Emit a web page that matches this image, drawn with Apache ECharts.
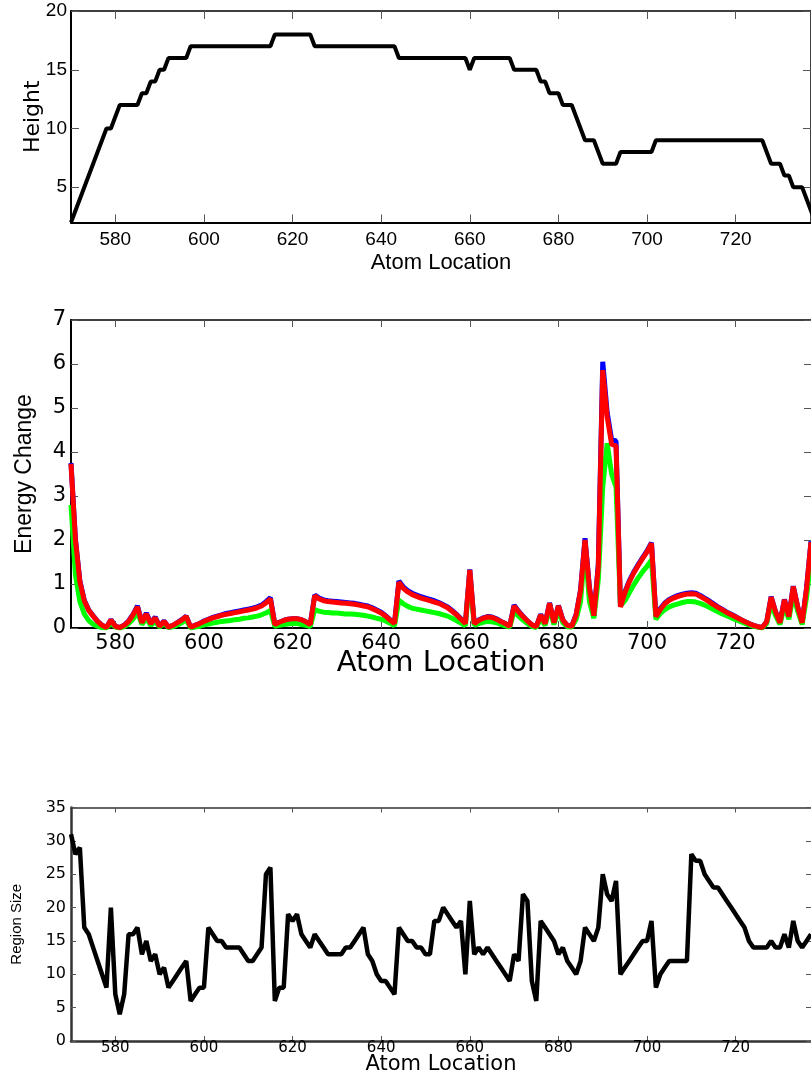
<!DOCTYPE html>
<html><head><meta charset="utf-8">
<script src="https://cdn.jsdelivr.net/npm/echarts@6/dist/echarts.min.js"></script>
<style>html,body{margin:0;padding:0;background:#fff}#c{width:811px;height:1076px}</style>
</head><body><div id="c"></div>
<script>
// ---- data ----
const atomStart = 570;
const xTicks = [580, 600, 620, 640, 660, 680, 700, 720];
const heightTicks = [5, 10, 15, 20];
const energyTicks = [0, 1, 2, 3, 4, 5, 6, 7];
const regionTicks = [0, 5, 10, 15, 20, 25, 30, 35];

const heightVals = [
  2,3,4,5,6,7,8,9,10,10,
  11,12,12,12,12,12,13,13,14,14,
  15,15,16,16,16,16,16,17,17,17,
  17,17,17,17,17,17,17,17,17,17,
  17,17,17,17,17,17,18,18,18,18,
  18,18,18,18,18,17,17,17,17,17,
  17,17,17,17,17,17,17,17,17,17,
  17,17,17,17,16,16,16,16,16,16,
  16,16,16,16,16,16,16,16,16,16,
  15,16,16,16,16,16,16,16,16,16,
  15,15,15,15,15,15,14,14,13,13,
  13,12,12,12,11,10,9,9,9,8,
  7,7,7,7,8,8,8,8,8,8,
  8,8,9,9,9,9,9,9,9,9,
  9,9,9,9,9,9,9,9,9,9,
  9,9,9,9,9,9,9,8,7,7,
  7,6,6,5,5,5,4,3,2
];

const energyBlue = [
  3.75,2.02,1.07,0.63,0.41,0.28,0.15,0.06,0.01,0.19,
  0.04,0.01,0.06,0.16,0.31,0.5,0.13,0.34,0.11,0.25,
  0.04,0.16,0.02,0.06,0.12,0.19,0.27,0.02,0.06,0.1,
  0.16,0.2,0.24,0.27,0.3,0.33,0.35,0.37,0.39,0.41,
  0.43,0.45,0.48,0.52,0.6,0.69,0.08,0.13,0.17,0.2,
  0.21,0.21,0.19,0.14,0.08,0.75,0.68,0.64,0.62,0.61,
  0.6,0.59,0.58,0.57,0.56,0.54,0.52,0.5,0.46,0.41,
  0.36,0.28,0.19,0.1,1.07,0.93,0.85,0.79,0.75,0.71,
  0.68,0.65,0.62,0.58,0.53,0.48,0.4,0.31,0.21,0.1,
  1.33,0.1,0.18,0.23,0.26,0.25,0.21,0.15,0.1,0.04,
  0.52,0.38,0.27,0.16,0.07,0.03,0.31,0.1,0.57,0.12,
  0.51,0.18,0.06,0.04,0.31,0.87,2.04,0.92,0.28,1.45,
  6.05,4.9,4.28,4.25,0.5,0.82,1.07,1.27,1.44,1.6,
  1.75,1.94,0.27,0.44,0.57,0.65,0.7,0.74,0.77,0.79,
  0.8,0.79,0.74,0.68,0.62,0.55,0.48,0.42,0.36,0.31,
  0.26,0.2,0.15,0.1,0.06,0.03,0.01,0.14,0.71,0.37,
  0.12,0.65,0.26,0.95,0.48,0.12,0.91,1.97
];

const energyGreen = [
  2.8,1.2,0.6,0.32,0.17,0.08,0.04,0.01,0.0,0.1,
  0.02,0.0,0.03,0.1,0.2,0.36,0.08,0.22,0.06,0.15,
  0.02,0.1,0.01,0.03,0.07,0.12,0.19,0.0,0.02,0.04,
  0.07,0.09,0.11,0.13,0.15,0.16,0.17,0.19,0.2,0.22,
  0.23,0.25,0.27,0.3,0.34,0.4,0.04,0.06,0.08,0.09,
  0.1,0.1,0.08,0.06,0.03,0.42,0.38,0.36,0.35,0.34,
  0.34,0.33,0.32,0.32,0.31,0.3,0.29,0.27,0.25,0.22,
  0.2,0.16,0.11,0.05,0.63,0.55,0.49,0.45,0.43,0.41,
  0.39,0.37,0.35,0.33,0.3,0.27,0.22,0.17,0.11,0.05,
  1.2,0.06,0.1,0.13,0.15,0.14,0.12,0.08,0.05,0.02,
  0.38,0.27,0.18,0.1,0.04,0.01,0.22,0.06,0.45,0.08,
  0.4,0.12,0.03,0.02,0.2,0.6,1.85,0.6,0.22,1.1,
  3.2,4.2,3.5,3.2,0.5,0.62,0.8,0.98,1.14,1.28,
  1.4,1.55,0.2,0.33,0.42,0.48,0.52,0.55,0.58,0.6,
  0.6,0.59,0.56,0.52,0.47,0.42,0.37,0.32,0.28,0.23,
  0.19,0.15,0.11,0.07,0.04,0.02,0.0,0.1,0.56,0.28,
  0.08,0.5,0.2,0.76,0.38,0.08,0.7,1.6
];

const energyRed = [
  3.73,2.0,1.05,0.62,0.4,0.27,0.15,0.06,0.01,0.18,
  0.04,0.01,0.06,0.15,0.3,0.48,0.12,0.32,0.1,0.23,
  0.04,0.15,0.02,0.06,0.12,0.18,0.26,0.02,0.06,0.1,
  0.15,0.19,0.23,0.26,0.29,0.31,0.33,0.35,0.37,0.39,
  0.41,0.43,0.46,0.5,0.57,0.66,0.08,0.13,0.17,0.2,
  0.21,0.21,0.19,0.14,0.08,0.73,0.66,0.62,0.6,0.59,
  0.58,0.57,0.56,0.55,0.54,0.52,0.5,0.48,0.44,0.39,
  0.34,0.27,0.18,0.1,1.04,0.9,0.82,0.76,0.72,0.68,
  0.65,0.62,0.59,0.56,0.51,0.46,0.38,0.3,0.2,0.1,
  1.32,0.1,0.17,0.22,0.25,0.24,0.2,0.15,0.1,0.04,
  0.5,0.37,0.26,0.16,0.07,0.03,0.3,0.1,0.56,0.12,
  0.5,0.18,0.06,0.04,0.3,0.85,2.0,0.9,0.28,1.4,
  5.86,4.8,4.18,4.14,0.48,0.8,1.05,1.25,1.42,1.58,
  1.73,1.92,0.26,0.42,0.55,0.63,0.68,0.72,0.75,0.77,
  0.78,0.77,0.72,0.66,0.6,0.53,0.47,0.41,0.35,0.3,
  0.25,0.2,0.15,0.1,0.06,0.03,0.01,0.14,0.7,0.37,
  0.12,0.64,0.26,0.94,0.48,0.12,0.9,1.95
];

const regionVals = [
  31,28,29,17,16,14,12,10,8,20,
  7,4,7,16,16,17,13,15,12,13,
  10,11,8,9,10,11,12,6,7,8,
  8,17,16,15,15,14,14,14,14,13,
  12,12,13,14,25,26,6,8,8,19,
  18,19,16,15,14,16,15,14,13,13,
  13,13,14,14,15,16,17,13,12,10,
  9,9,8,7,17,16,15,15,14,14,
  13,13,18,18,20,19,18,17,18,10,
  21,13,14,13,14,13,12,11,10,9,
  13,12,22,21,9,6,18,17,16,15,
  13,14,12,11,10,12,17,16,15,17,
  25,22,21,24,10,11,12,13,14,15,
  15,18,8,10,11,12,12,12,12,12,
  28,27,27,25,24,23,23,22,21,20,
  19,18,17,15,14,14,14,14,15,14,
  14,16,14,18,15,14,15,16
];

// ---- helpers ----
const FONT_SANS = "'Liberation Sans',Arial,sans-serif";
const FONT_WIDE = "'DejaVu Sans',sans-serif";
const X_MIN = 570, X_MAX = 737;

function pairs(vals) { return vals.map((v, i) => [atomStart + i, v]); }

function makeX(gi, o) {
  const tick = { show: true, inside: true, length: o.tickLen, customValues: xTicks, lineStyle: { color: '#555', width: 1 } };
  return [
    { type: 'value', gridIndex: gi, min: X_MIN, max: X_MAX, position: 'bottom',
      axisLine: { show: true, onZero: false, lineStyle: { color: o.axisColor, width: o.axisWidth } },
      axisTick: tick,
      axisLabel: { show: true, customValues: xTicks, margin: o.labelMargin, color: '#000', fontFamily: o.labelFont, fontSize: o.labelSize },
      splitLine: { show: false },
      name: 'Atom Location', nameLocation: 'middle', nameGap: o.nameGap, nameMoveOverlap: false,
      nameTextStyle: { color: '#000', fontFamily: o.nameFont, fontSize: o.nameSize } },
    { type: 'value', gridIndex: gi, min: X_MIN, max: X_MAX, position: 'top',
      axisLine: { show: true, onZero: false, lineStyle: { color: o.axisColor, width: o.borderWidth } },
      axisTick: tick, axisLabel: { show: false }, splitLine: { show: false } }
  ];
}

function makeY(gi, o) {
  const tick = { show: true, inside: true, length: o.tickLen, customValues: o.ticks, lineStyle: { color: '#555', width: 1 } };
  return [
    { type: 'value', gridIndex: gi, min: o.min, max: o.max, position: 'left',
      axisLine: { show: true, onZero: false, lineStyle: { color: o.axisColor, width: o.axisWidth } },
      axisTick: tick,
      axisLabel: { show: true, customValues: o.ticks, margin: o.labelMargin, color: '#000', fontFamily: o.labelFont, fontSize: o.labelSize },
      splitLine: { show: false },
      name: o.name, nameLocation: 'middle', nameGap: o.nameGap, nameRotate: 90, nameMoveOverlap: false,
      nameTextStyle: { color: '#000', fontFamily: o.nameFont, fontSize: o.nameSize } },
    { type: 'value', gridIndex: gi, min: o.min, max: o.max, position: 'right',
      axisLine: { show: o.rightLine, onZero: false, lineStyle: { color: o.axisColor, width: o.borderWidth } },
      axisTick: tick, axisLabel: { show: false }, splitLine: { show: false } }
  ];
}

function lineSeries(xi, yi, vals, color, width) {
  return { type: 'line', xAxisIndex: xi, yAxisIndex: yi, data: pairs(vals),
    showSymbol: false, symbol: 'none', clip: true, animation: false,
    lineStyle: { color: color, width: width }, itemStyle: { color: color } };
}

const xAxes = [].concat(
  makeX(0, { tickLen: 8, axisColor: '#000', axisWidth: 2, borderWidth: 1.5, labelMargin: 8, labelFont: FONT_SANS, labelSize: 19, nameGap: 29, nameFont: FONT_SANS, nameSize: 22 }),
  makeX(1, { tickLen: 7, axisColor: '#000', axisWidth: 2, borderWidth: 1.5, labelMargin: 5, labelFont: FONT_WIDE, labelSize: 21, nameGap: 21, nameFont: FONT_WIDE, nameSize: 29 }),
  makeX(2, { tickLen: 5, axisColor: '#333', axisWidth: 2.5, borderWidth: 1.5, labelMargin: 0, labelFont: FONT_WIDE, labelSize: 15, nameGap: 13, nameFont: FONT_WIDE, nameSize: 21 })
);
const yAxes = [].concat(
  makeY(0, { min: 2, max: 20, ticks: heightTicks, tickLen: 8, axisColor: '#000', axisWidth: 2, borderWidth: 1.5, rightLine: true, labelMargin: 4, labelFont: FONT_SANS, labelSize: 19, name: 'Height', nameGap: 27, nameFont: FONT_WIDE, nameSize: 22 }),
  makeY(1, { min: 0, max: 7, ticks: energyTicks, tickLen: 7, axisColor: '#000', axisWidth: 2, borderWidth: 1.5, rightLine: false, labelMargin: 5, labelFont: FONT_WIDE, labelSize: 21, name: 'Energy Change', nameGap: 35, nameFont: FONT_SANS, nameSize: 23 }),
  makeY(2, { min: 0, max: 35, ticks: regionTicks, tickLen: 5, axisColor: '#333', axisWidth: 2.5, borderWidth: 1.5, rightLine: false, labelMargin: 5, labelFont: FONT_WIDE, labelSize: 16, name: 'Region Size', nameGap: 47, nameFont: FONT_SANS, nameSize: 15 })
);

const option = {
  backgroundColor: '#fff',
  animation: false,
  grid: [
    { left: 71, top: 11, width: 740, height: 211.5 },
    { left: 71, top: 320, width: 740, height: 308 },
    { left: 71, top: 807.5, width: 740, height: 234.5 }
  ],
  xAxis: xAxes,
  yAxis: yAxes,
  series: [
    lineSeries(0, 0, heightVals, '#000000', 4),
    lineSeries(2, 2, energyBlue, '#0000ff', 5),
    lineSeries(2, 2, energyGreen, '#00ff00', 5),
    lineSeries(2, 2, energyRed, '#ff0000', 5),
    lineSeries(4, 4, regionVals, '#000000', 4.5)
  ]
};

const chart = echarts.init(document.getElementById('c'), null, { renderer: 'canvas' });
chart.setOption(option);
</script>
</body></html>
